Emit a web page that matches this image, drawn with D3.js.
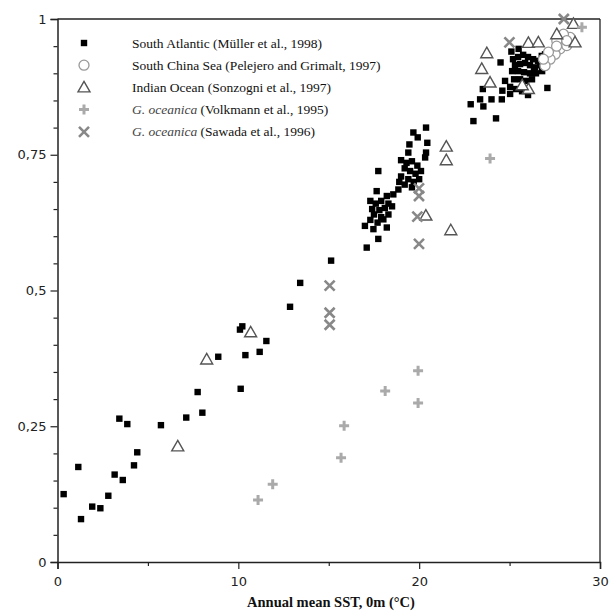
<!DOCTYPE html>
<html><head><meta charset="utf-8">
<script src="https://cdn.jsdelivr.net/npm/d3@7"></script>
<style>body{margin:0;background:#fff}</style>
</head><body>
<svg id="c" width="609" height="613"></svg>
<script>
// South Atlantic (Müller et al., 1998) [SST, ratio]
const southAtlantic = [
[0.34,0.125],[1.15,0.175],[1.30,0.079],[1.92,0.102],[2.37,0.099],[2.81,0.122],[3.16,0.161],[3.61,0.151],
[4.23,0.178],[4.41,0.202],[3.42,0.264],[3.86,0.254],[5.72,0.252],[7.12,0.266],[8.01,0.275],[7.75,0.313],
[8.89,0.378],[10.09,0.428],[10.22,0.434],[10.13,0.319],[10.39,0.381],[11.18,0.387],[11.55,0.407],
[12.86,0.470],[13.42,0.514],[15.13,0.555],
[20.38,0.800],[19.68,0.791],[19.92,0.782],[20.45,0.772],[19.46,0.769],[20.38,0.754],[20.33,0.745],[19.40,0.754],
[17.74,0.720],[19.0,0.74],[19.3,0.735],[19.6,0.738],[19.9,0.73],[19.2,0.725],[19.5,0.72],[19.8,0.715],[20.1,0.72],
[19.0,0.71],[19.4,0.705],[19.7,0.70],[20.0,0.705],[19.2,0.695],[19.6,0.69],[18.9,0.70],[18.85,0.686],
[18.57,0.677],[18.21,0.674],[17.65,0.683],[17.3,0.665],[17.6,0.66],[17.9,0.665],[18.3,0.66],[17.4,0.65],
[17.8,0.648],[18.1,0.652],[18.5,0.655],[17.5,0.64],[17.9,0.635],[18.3,0.64],[17.3,0.63],[17.7,0.625],
[18.02,0.631],[18.21,0.616],[17.0,0.619],[17.47,0.613],[17.74,0.595],[17.1,0.579],
[23.0,0.812],[24.25,0.817],[23.37,0.852],[22.85,0.843],[23.52,0.871],[23.55,0.839],[24.0,0.852],[24.57,0.852],
[25.03,0.862],[24.6,0.868],[24.75,0.886],[24.5,0.92],[27.09,0.873],
[25.19,0.926],[25.47,0.930],[25.75,0.934],[26.02,0.930],[26.30,0.926],[26.57,0.923],[25.30,0.915],[25.58,0.917],
[25.86,0.919],[26.13,0.915],[26.41,0.911],[26.69,0.915],[25.14,0.904],[25.47,0.904],[25.80,0.902],[26.13,0.900],
[26.46,0.900],[26.80,0.904],[25.25,0.889],[25.58,0.889],[25.91,0.886],[26.24,0.889],[25.03,0.875],[25.36,0.871],
[25.69,0.867],[26.02,0.860],[26.35,0.908],[26.96,0.935],[27.13,0.923],[25.1,0.94],[25.5,0.945],[26.78,0.932]
];
// South China Sea (Pelejero and Grimalt, 1997)
const southChinaSea = [
[27.61,0.960],[27.79,0.945],[27.52,0.935],[27.24,0.926],[26.96,0.914],[28.16,0.951],[28.35,0.966],
[27.98,0.972],[27.15,0.939],[26.87,0.926],[28.16,0.960],[27.6,0.95]
];
// Indian Ocean (Sonzogni et al., 1997)
const indianOcean = [
[6.65,0.213],[8.25,0.373],[10.68,0.423],[20.37,0.638],[21.5,0.765],[21.5,0.740],[21.75,0.611],
[23.74,0.937],[23.46,0.908],[23.92,0.883],[26.04,0.956],[26.59,0.957],[27.61,0.972],[28.53,0.991],
[28.62,0.957],[26.04,0.871],[25.7,0.878]
];
// G. oceanica (Volkmann et al., 1995)
const volkmann = [
[11.09,0.114],[11.90,0.143],[15.68,0.192],[15.85,0.251],[18.12,0.315],[19.94,0.352],[19.94,0.293],
[23.92,0.743],[29.0,0.985]
];
// G. oceanica (Sawada et al., 1996)
const sawada = [
[15.05,0.509],[15.05,0.459],[15.05,0.437],[19.99,0.688],[19.99,0.674],[19.9,0.636],[19.99,0.586],
[24.99,0.957],[28.0,1.0]
];
const xTicks = [0,10,20,30];
const yTicks = [0,0.25,0.5,0.75,1];
const yTickLabels = ["0","0,25","0,5","0,75","1"];
const legendLabels = [
 ["South Atlantic (Müller et al., 1998)", ""],
 ["South China Sea (Pelejero and Grimalt, 1997)", ""],
 ["Indian Ocean (Sonzogni et al., 1997)", ""],
 ["G. oceanica", " (Volkmann et al., 1995)"],
 ["G. oceanica", " (Sawada et al., 1996)"]
];
const xTitle = "Annual mean SST, 0m (°C)";

const svg = d3.select("#c");
const x = d3.scaleLinear().domain([0,30]).range([57.5,600]);
const y = d3.scaleLinear().domain([0,1]).range([562,19]);

// frame
svg.append("line").attr("x1",x(0)).attr("x2",x(30)).attr("y1",y(1)).attr("y2",y(1)).attr("stroke","#222").attr("stroke-width",1.3);
svg.append("line").attr("x1",x(30)).attr("x2",x(30)).attr("y1",y(0)).attr("y2",y(1)).attr("stroke","#222").attr("stroke-width",1.3);

const tickFont = "'DejaVu Sans', Verdana, sans-serif";
// x axis
const gx = svg.append("g").attr("transform",`translate(0,${y(0)})`)
  .call(d3.axisBottom(x).tickValues(d3.range(0,31,5)).tickSize(4).tickFormat(""));
gx.call(d3.axisBottom(x).tickValues(xTicks).tickSize(7).tickPadding(5).tickFormat(d3.format("d")));
const gx2 = svg.append("g").attr("transform",`translate(0,${y(0)})`)
  .call(d3.axisBottom(x).tickValues(d3.range(5,31,10)).tickSize(4).tickFormat(""));
gx2.select(".domain").remove();
// y axis
const gy = svg.append("g").attr("transform",`translate(${x(0)},0)`)
  .call(d3.axisLeft(y).tickValues(yTicks).tickSize(7).tickPadding(4).tickFormat((d,i)=>yTickLabels[i]));
const gy2 = svg.append("g").attr("transform",`translate(${x(0)},0)`)
  .call(d3.axisLeft(y).tickValues(d3.range(0,1.001,0.05).filter(v=>Math.abs(v*4-Math.round(v*4))>1e-6)).tickSize(4).tickFormat(""));
gy2.select(".domain").remove();
svg.selectAll(".domain").attr("stroke","#222").attr("stroke-width",1.5);
svg.selectAll(".tick line").attr("stroke","#222").attr("stroke-width",1.2);
svg.selectAll(".tick text").attr("font-family",tickFont).attr("font-size",13).attr("fill","#222");
gx.selectAll(".tick text").attr("dy","0.9em");

// x title
svg.append("text").attr("x",331).attr("y",607).attr("text-anchor","middle")
  .attr("font-family","'Liberation Serif','Times New Roman',serif").attr("font-weight","bold").attr("font-size",14.5)
  .attr("fill","#111").text(xTitle);

// symbols
function sq(g,cx,cy){ g.append("rect").attr("x",cx-3.2).attr("y",cy-3.2).attr("width",6.4).attr("height",6.4).attr("fill","#000"); }
function circ(g,cx,cy){ g.append("circle").attr("cx",cx).attr("cy",cy).attr("r",5).attr("fill","#fff").attr("stroke","#999").attr("stroke-width",1.3); }
function tri(g,cx,cy){ g.append("path").attr("d",`M${cx},${cy-6}L${cx+6},${cy+4.5}L${cx-6},${cy+4.5}Z`).attr("fill","#fff").attr("stroke","#555").attr("stroke-width",1.4); }
function plus(g,cx,cy){ g.append("path").attr("d",`M${cx-5},${cy}H${cx+5}M${cx},${cy-5}V${cy+5}`).attr("stroke","#aaa").attr("stroke-width",3); }
function cross(g,cx,cy){ g.append("path").attr("d",`M${cx-5},${cy-5}L${cx+5},${cy+5}M${cx-5},${cy+5}L${cx+5},${cy-5}`).attr("stroke","#888").attr("stroke-width",2.6); }

const gp = svg.append("g");
southAtlantic.forEach(d=>sq(gp,x(d[0]),y(d[1])));
southChinaSea.forEach(d=>circ(gp,x(d[0]),y(d[1])));
indianOcean.forEach(d=>tri(gp,x(d[0]),y(d[1])));
sawada.forEach(d=>cross(gp,x(d[0]),y(d[1])));
volkmann.forEach(d=>plus(gp,x(d[0]),y(d[1])));

// legend
const symFns = [sq,circ,tri,plus,cross];
const lg = svg.append("g");
legendLabels.forEach((lab,i)=>{
  const yy = 43 + i*22.2;
  symFns[i](lg,84,yy);
  const t = lg.append("text").attr("x",132).attr("y",yy+4.5)
    .attr("font-family","'Liberation Serif','Times New Roman',serif").attr("font-size",13.5).attr("fill","#111");
  if (lab[1]) {
    t.append("tspan").attr("font-style","italic").attr("fill","#444").text(lab[0]);
    t.append("tspan").text(lab[1]);
  } else t.text(lab[0]);
});
</script>
</body></html>
